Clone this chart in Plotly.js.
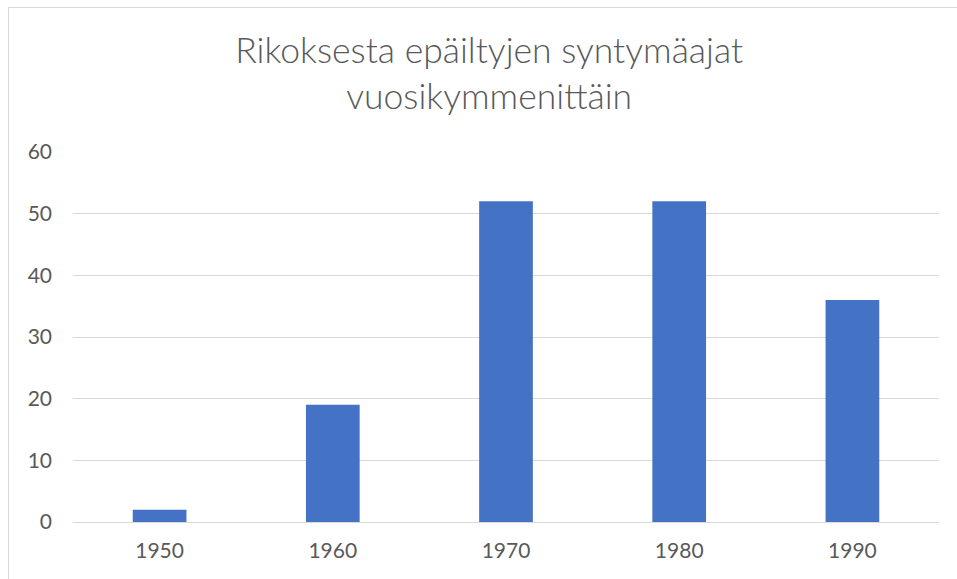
<!DOCTYPE html>
<html>
<head>
<meta charset="utf-8">
<script src="https://cdn.plot.ly/plotly-3.0.1.min.js"></script>
<style>
  html, body { margin: 0; padding: 0; background: #fff; overflow: hidden; }
  #wrap { position: relative; width: 957px; height: 579px; }
  #chart { position: absolute; left: 8px; top: 7px; width: 949px; height: 572px;
           border-left: 1px solid #d9d9d9; border-top: 1px solid #d9d9d9; box-sizing: border-box; }
</style>
</head>
<body>
<div id="wrap"><div id="chart"></div></div>
<script>
const categories = ["1950", "1960", "1970", "1980", "1990"];
const counts = [2, 19, 52, 52, 36];
const yTicks = [0, 10, 20, 30, 40, 50, 60];
const titleText = "Rikoksesta epäiltyjen syntymäajat<br>vuosikymmenittäin";

const font = "Lato, 'Open Sans', sans-serif";
const trace = {
  type: "bar",
  x: categories,
  y: counts,
  marker: { color: "#4472C4" },
  hoverinfo: "x+y"
};

const layout = {
  width: 949,
  height: 572,
  margin: { l: 64, r: 19, t: 144, b: 58 },
  paper_bgcolor: "#ffffff",
  plot_bgcolor: "#ffffff",
  bargap: 0.69,
  showlegend: false,
  font: { family: font, color: "#595959", size: 20 },
  title: {
    text: titleText,
    font: { family: font, size: 35.5, color: "#595959", weight: 300 },
    x: 0.506, xref: "container", xanchor: "center",
    y: 1 - 55 / 572, yref: "container", yanchor: "top"
  },
  xaxis: {
    type: "category",
    showgrid: false,
    zeroline: false,
    showline: false,
    ticks: "",
    ticklabelstandoff: 14,
    tickfont: { family: font, size: 21, color: "#595959" }
  },
  yaxis: {
    range: [0, 60],
    tickvals: yTicks,
    ticktext: yTicks.map(String),
    showgrid: true,
    gridcolor: "#d9d9d9",
    gridwidth: 1,
    zeroline: true,
    zerolinecolor: "#d9d9d9",
    zerolinewidth: 1,
    showline: false,
    ticks: "",
    ticklabelstandoff: 20,
    tickfont: { family: font, size: 21, color: "#595959" }
  }
};

Plotly.newPlot("chart", [trace], layout, { displayModeBar: false, staticPlot: true });
</script>
</body>
</html>
